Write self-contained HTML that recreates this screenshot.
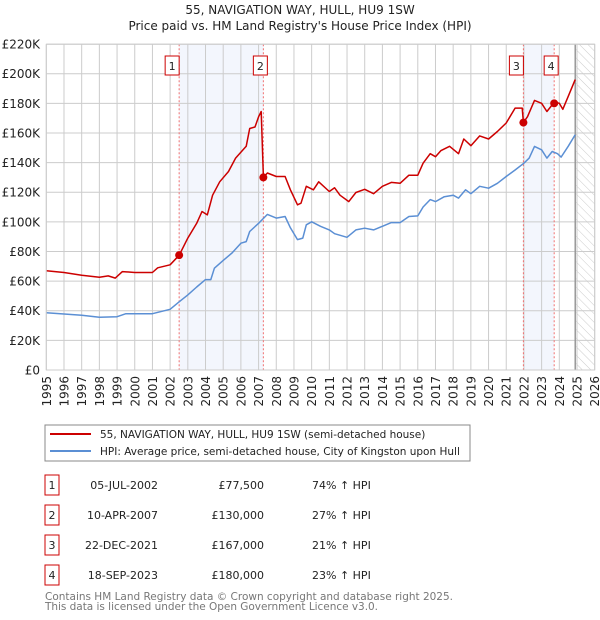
<!DOCTYPE html>
<html><head><meta charset="utf-8"><style>
body{margin:0;background:#fff;}
svg{display:block;font-family:"DejaVu Sans","Liberation Sans",sans-serif;}
</style></head><body>
<svg id="c" width="600" height="620">
<defs><pattern id="hatch" width="6" height="6" patternUnits="userSpaceOnUse" patternTransform="rotate(-45)"><line x1="0" y1="0" x2="0" y2="6" stroke="#ccc" stroke-width="1"/></pattern></defs>
<text x="300" y="14" text-anchor="middle" font-size="12" fill="#222">55, NAVIGATION WAY, HULL, HU9 1SW</text>
<text x="300" y="30" text-anchor="middle" font-size="12" fill="#222">Price paid vs. HM Land Registry's House Price Index (HPI)</text>
<g id="plot"></g>
<rect x="45" y="425" width="425" height="36" fill="#fff" stroke="#888"/>
<line x1="50" y1="434" x2="91" y2="434" stroke="#cc0000" stroke-width="2"/>
<text x="100" y="438" font-size="10.5" fill="#222">55, NAVIGATION WAY, HULL, HU9 1SW (semi-detached house)</text>
<line x1="50" y1="451" x2="91" y2="451" stroke="#5b8fd4" stroke-width="2"/>
<text x="100" y="455" font-size="10.5" fill="#222">HPI: Average price, semi-detached house, City of Kingston upon Hull</text>
<g id="table" font-size="11" fill="#222"></g>
<text x="45" y="600" font-size="10.5" fill="#777" textLength="408">Contains HM Land Registry data © Crown copyright and database right 2025.</text>
<text x="45" y="610" font-size="10.5" fill="#777" textLength="333">This data is licensed under the Open Government Licence v3.0.</text>
</svg>
<script>
const hpiYears=[1995,1997,1998,1999,1999.5,2000,2001,2002,2002.5,2003,2003.5,2004,2004.3,2004.5,2005,2005.5,2006,2006.3,2006.5,2007,2007.5,2008,2008.5,2008.8,2009.2,2009.5,2009.7,2010,2010.5,2011,2011.3,2012,2012.5,2013,2013.5,2014,2014.5,2015,2015.5,2016,2016.3,2016.7,2017,2017.5,2018,2018.3,2018.7,2019,2019.5,2020,2020.5,2021,2021.5,2022,2022.3,2022.6,2023,2023.3,2023.6,2023.9,2024.1,2024.5,2024.9];
const hpiValues=[38.7,37,35.6,36,38,38,38,41,46,50.7,56,61,61,68.7,74,79,85.6,86.7,93.5,99,105,102.5,103.6,96,88,89,98,100,97,94.6,92,89.6,94.6,95.7,94.6,97,99.5,99.5,103.6,104,110,115,113.7,117,118,116,121.6,119,124,122.7,126,130.6,135,139.6,143,150.9,148.6,143,147.5,146,143.7,151,158.8];
const redYears=[1995,1996,1997,1998,1998.5,1998.9,1999.3,2000,2001,2001.3,2002,2002.51,2003,2003.5,2003.8,2004.1,2004.4,2004.8,2005.3,2005.7,2006.3,2006.5,2006.8,2007.0,2007.15,2007.27,2007.5,2008,2008.5,2008.8,2009.2,2009.4,2009.7,2010.1,2010.4,2011,2011.3,2011.6,2012.1,2012.5,2013,2013.5,2014,2014.5,2015,2015.5,2016,2016.3,2016.7,2017,2017.3,2017.8,2018.3,2018.6,2019,2019.5,2020,2020.5,2021,2021.5,2021.9,2021.97,2022.2,2022.6,2023,2023.3,2023.71,2024,2024.2,2024.5,2024.9];
const redValues=[67,65.8,64,62.6,63.5,62,66.4,65.8,65.8,69,71,77.5,89,99,107,104.7,118,127,134,143,151,163,164,171,174.5,130,133,130.6,130.6,121.6,111.5,112.6,124,121.6,127,120.5,123,118,113.7,119.8,122,119,124,126.6,126,131.5,131.5,139.6,146,144,148,151,146,155.9,151.4,158,155.9,161,166.7,176.8,176.8,167,171,182,180,174.5,180.6,180,176,184.7,196];
const saleLabels=["1","2","3","4"];
const saleYears=[2002.51,2007.27,2021.97,2023.71];
const saleValues=[77.5,130,167,180];
const saleDates=["05-JUL-2002","10-APR-2007","22-DEC-2021","18-SEP-2023"];
const salePrices=["£77,500","£130,000","£167,000","£180,000"];
const saleHpi=["74% ↑ HPI","27% ↑ HPI","21% ↑ HPI","23% ↑ HPI"];
const yTicks=[0,20,40,60,80,100,120,140,160,180,200,220];
const xTicks=[1995,1996,1997,1998,1999,2000,2001,2002,2003,2004,2005,2006,2007,2008,2009,2010,2011,2012,2013,2014,2015,2016,2017,2018,2019,2020,2021,2022,2023,2024,2025,2026];
const dataEnd=2024.9;

const X0=46.3,XK=17.69,Y0=370,YK=1.4815,TOP=44.3,RIGHT=594.7;
const xs=y=>X0+(y-1995)*XK, ys=v=>Y0-v*YK;
const NS="http://www.w3.org/2000/svg";
const g=document.getElementById('plot');
function mk(t,a,p){const e=document.createElementNS(NS,t);for(const k in a)e.setAttribute(k,a[k]);(p||g).appendChild(e);return e;}
let s=mk('rect',{x:xs(saleYears[0]),y:TOP,width:xs(saleYears[1])-xs(saleYears[0]),height:Y0-TOP,fill:'#f3f6fd'});


s=mk('rect',{x:xs(saleYears[2]),y:TOP,width:xs(saleYears[3])-xs(saleYears[2]),height:Y0-TOP,fill:'#f3f6fd'});


s=mk('rect',{x:xs(dataEnd),y:TOP,width:RIGHT-xs(dataEnd),height:Y0-TOP,fill:'url(#hatch)'});


yTicks.forEach(v=>{
 const l=mk('line',{x1:X0,x2:RIGHT,y1:ys(v),y2:ys(v),stroke:'#ccc','stroke-width':1});
 
 
 const t=mk('text',{x:40,y:ys(v)+4.5,'text-anchor':'end','font-size':12,fill:'#222'});
 t.textContent=v===0?'£0':'£'+v+'K';
 
 
});
xTicks.forEach(yr=>{
 const l=mk('line',{x1:xs(yr),x2:xs(yr),y1:TOP,y2:Y0,stroke:'#ccc','stroke-width':1});
 
 
 const t=mk('text',{transform:`translate(${xs(yr)+4.5},${Y0+6}) rotate(-90)`,'text-anchor':'end','font-size':12,fill:'#222'});
 t.textContent=yr;
 
 
});
let el=mk('line',{x1:xs(dataEnd),x2:xs(dataEnd),y1:TOP,y2:Y0,stroke:'#999','stroke-width':1.5});


saleYears.forEach((yr,i)=>{
 const l=mk('line',{x1:xs(yr),x2:xs(yr),y1:TOP,y2:Y0,stroke:'#f07070','stroke-width':1,'stroke-dasharray':'2,2'});
 
 
 const r=mk('rect',{x:xs(yr)-(i===0||i===2?16:12)+2,y:56,width:14,height:19,fill:'#fff',stroke:'#cc0000'});
 
 
 const t=mk('text',{x:+r.getAttribute('x')+7,y:70,'text-anchor':'middle','font-size':11,fill:'#222'});
 t.textContent=saleLabels[i];
 
 
});
const path=(xa,va)=>xa.map((x,i)=>(i?'L':'M')+xs(x).toFixed(1)+','+ys(va[i]).toFixed(1)).join('');
el=mk('path',{d:path(hpiYears,hpiValues),fill:'none',stroke:'#5b8fd4','stroke-width':1.5,'stroke-linejoin':'round'});


el=mk('path',{d:path(redYears,redValues),fill:'none',stroke:'#cc0000','stroke-width':1.5,'stroke-linejoin':'round'});


saleYears.forEach((yr,i)=>{
 const c=mk('circle',{cx:xs(yr),cy:ys(saleValues[i]),r:4,fill:'#cc0000'});
 
 
});
el=mk('rect',{x:X0,y:TOP,width:RIGHT-X0,height:Y0-TOP,fill:'none',stroke:'#ccc'});


const tb=document.getElementById('table');
saleLabels.forEach((lb,i)=>{
 const y=475+i*30;
 const r=mk('rect',{x:45,y:y,width:14,height:20,fill:'#fff',stroke:'#cc0000'},tb);
 
 
 const cells=[[52,lb,'middle','table-row-number'],[158,saleDates[i],'end','table-date'],[264,salePrices[i],'end','table-price'],[312,saleHpi[i],'start','table-hpi-change']];
 cells.forEach(c=>{
  const t=mk('text',{x:c[0],y:y+14,'text-anchor':c[2]},tb);
  t.textContent=c[1];
  
  
 });
});
</script>
</body></html>
